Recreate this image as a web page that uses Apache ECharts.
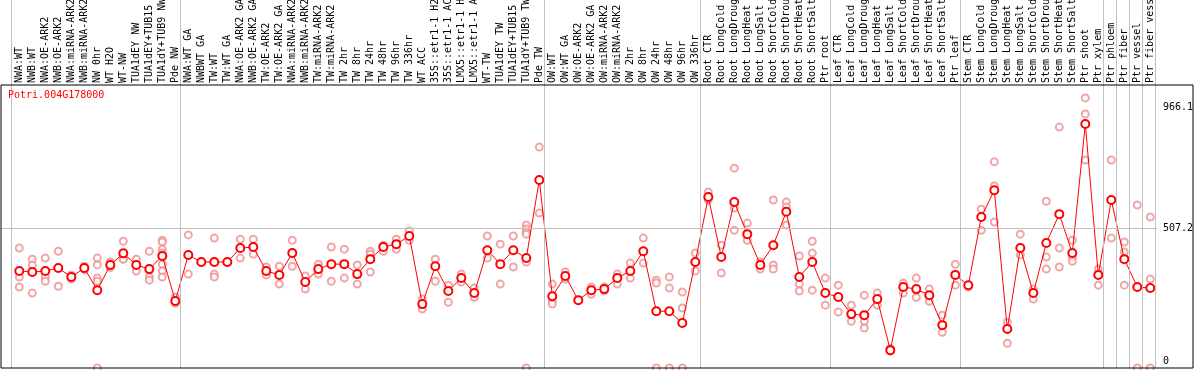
<!DOCTYPE html>
<html>
<head>
<meta charset="utf-8">
<script src="https://cdn.jsdelivr.net/npm/echarts@6/dist/echarts.min.js"></script>
<style>
html,body{margin:0;padding:0;background:#fff;}
#chart{width:1194px;height:370px;}
</style>
</head>
<body>
<div id="chart"></div>
<script>
const geneId = 'Potri.004G178000';

const categories = [
  'NWA:WT','NWB:WT','NWA:OE-ARK2','NWB:OE-ARK2','NWA:miRNA-ARK2','NWB:miRNA-ARK2','NW 0hr','WT H2O','WT-NW',
  'TUA1dEY NW','TUA1dEY+TUB15 NW','TUA1dY+TUB9 NW','Pde NW',
  'NWA:WT GA','NWBWT GA','TW:WT','TW:WT GA','NWA:OE-ARK2 GA','NWB:OE-ARK2 GA','TW:OE-ARK2','TW:OE-ARK2 GA',
  'NWA:miRNA-ARK2','NWB:miRNA-ARK2','TW:miRNA-ARK2','TW:miRNA-ARK2',
  'TW 2hr','TW 8hr','TW 24hr','TW 48hr','TW 96hr','TW 336hr',
  'WT ACC','35S::etr1-1 H2O','35S::etr1-1 ACC','LMX5::etr1-1 H2O','LMX5::etr1-1 ACC',
  'WT-TW','TUA1dEY TW','TUA1dEY+TUB15 TW','TUA1dY+TUB9 TW','Pde TW',
  'OW:WT','OW:WT GA','OW:OE-ARK2','OW:OE-ARK2 GA','OW:miRNA-ARK2','OW:miRNA-ARK2',
  'OW 2hr','OW 8hr','OW 24hr','OW 48hr','OW 96hr','OW 336hr',
  'Root CTR','Root LongCold','Root LongDrought','Root LongHeat','Root LongSalt',
  'Root ShortCold','Root ShortDrought','Root ShortHeat','Root ShortSalt','Ptr root',
  'Leaf CTR','Leaf LongCold','Leaf LongDrought','Leaf LongHeat','Leaf LongSalt',
  'Leaf ShortCold','Leaf ShortDrought','Leaf ShortHeat','Leaf ShortSalt','Ptr leaf',
  'Stem CTR','Stem LongCold','Stem LongDrought','Stem LongHeat','Stem LongSalt',
  'Stem ShortCold','Stem ShortDrought','Stem ShortHeat','Stem ShortSalt',
  'Ptr shoot','Ptr xylem','Ptr phloem','Ptr fiber','Ptr vessel','Ptr fiber vessel'
];

const meanValues = [
  345,341,345,356,322,356,272,368,412,368,352,402,231,
  406,379,379,379,432,436,345,330,413,303,352,371,
  371,333,390,436,447,478,
  219,363,269,318,261,
  424,371,424,394,691,
  249,326,234,272,276,318,
  345,420,192,192,147,379,
  626,398,607,485,368,443,570,322,379,
  261,246,181,177,238,44,284,276,253,139,
  330,291,550,652,124,432,261,451,561,413,
  904,330,615,390,284,280
];

const replicateValues = [
  [432,322,284],[390,367,261],[394,322,306],[420,287,356],[330,314,322],[363,356,350],
  [394,368,318,306,-24],[379,368,358],[458,390,390],[390,345,368],[420,322,310],
  [462,455,428,413,371,345,322],[245,222,228],
  [482,333],[379,379],[470,333,322],[379,379],[466,394],[466,409,436],[360,330],[363,295],
  [462,363],[326,276],[371,333],[436,306],
  [428,318],[368,295],[420,409,341],[443,420],[466,428],[497,462],
  [238,200],[390,306],[291,226],[333,303],[280,245],
  [478,394],[447,295],[478,360],[520,505,493,485,379,-24],[816,565],
  [295,230,219],[341,314],[234],[284,256],[284,270],[333,295],
  [375,318],[470,375],[310,299,-24],[322,280,-24],[265,204,-24],[413,345],
  [645,615],[443,337],[736,584,500],[527,462],[379,352],[615,368,352],[607,588,520],[402,295,269],[458,413,272],
  [318,215],[291,189],[215,154],[253,154,128],[261,215],[50,40],[299,261],[318,245],[276,230],[177,112],
  [371,291],[284],[580,500],[760,668,531],[150,70],[485,406],[276,238],[610,398,352],[892,432,360],[462,398,382],
  [1003,942,767],[352,291],[767,470],[455,417,291],[596,-24],[550,314,-24]
];

const yTickValues = [0, 507.2, 966.1];
const yTickLabels = ['0', '507.2', '966.1'];
const yGridValue = 507.2;
const separatorAfter = [-1, 12, 40, 52, 62, 72, 83, 84, 85, 86, 87];

// ---- layout constants ----
const MONO = 'DejaVu Sans Mono';
const STEP = 13;          // px per category
const FIRST_X = 19.3;     // px of first category
const PLOT_L = 1, PLOT_R = 1157, PLOT_B = 368;
const Y0 = 361.7, YS = 0.2630; // px of value 0, px per unit

const xMin = (PLOT_L - FIRST_X) / STEP;
const xMax = (PLOT_R - FIRST_X) / STEP;
const yMin = -(PLOT_B - Y0) / YS;
const yMax = Y0 / YS;

const meanData = meanValues.map((v, i) => [i, v]);
const repData = [];
replicateValues.forEach((arr, i) => arr.forEach(v => repData.push([i, v])));

const chart = echarts.init(document.getElementById('chart'), null, {renderer: 'canvas'});
chart.setOption({
  animation: false,
  backgroundColor: '#fff',
  title: {
    text: geneId, left: 8, top: 90, padding: 0,
    textStyle: {color: '#ff0000', fontFamily: MONO, fontSize: 10, fontWeight: 'normal'}
  },
  grid: [
    {left: PLOT_L, top: 0, width: PLOT_R - PLOT_L, height: PLOT_B, containLabel: false, outerBoundsMode: 'none'},
    {left: FIRST_X - STEP / 2, top: 85, width: STEP * categories.length, height: PLOT_B - 85, containLabel: false, outerBoundsMode: 'none'},
    {left: 1, top: 85, width: 1192, height: PLOT_B - 85, show: true, borderColor: '#000', borderWidth: 1,
     backgroundColor: 'transparent', z: 10, containLabel: false, outerBoundsMode: 'none'}
  ],
  xAxis: [
    {gridIndex: 0, type: 'value', min: xMin, max: xMax, show: false},
    {gridIndex: 1, type: 'category', position: 'top', data: categories, boundaryGap: true,
     axisLine: {show: false}, axisTick: {show: false}, splitLine: {show: false},
     axisLabel: {rotate: 90, interval: 0, margin: 2, fontFamily: MONO, fontSize: 10, color: '#000',
       hideOverlap: false}},
    {gridIndex: 2, type: 'value', show: false}
  ],
  yAxis: [
    {gridIndex: 0, type: 'value', min: yMin, max: yMax, position: 'right',
     axisLine: {show: false}, axisTick: {show: false}, splitLine: {show: false},
     axisLabel: {customValues: yTickValues, margin: 6, fontFamily: MONO, fontSize: 10, color: '#000',
       formatter: v => { const k = yTickValues.indexOf(v); return k >= 0 ? yTickLabels[k] : ''; }}},
    {gridIndex: 1, type: 'value', show: false},
    {gridIndex: 2, type: 'value', show: false}
  ],
  series: [
    {
      type: 'line', xAxisIndex: 0, yAxisIndex: 0, data: [], silent: true,
      markLine: {
        silent: true, symbol: 'none', animation: false,
        label: {show: false},
        lineStyle: {color: '#c0c0c0', width: 1, type: 'solid'},
        data: separatorAfter.map(i => ({xAxis: i + 0.38})).concat([{yAxis: yGridValue}])
      }
    },
    {
      type: 'scatter', xAxisIndex: 0, yAxisIndex: 0, data: repData, silent: true,
      symbol: 'emptyCircle', symbolSize: 7, clip: false, z: 3,
      itemStyle: {color: '#ec9090', borderColor: '#ec9090', borderWidth: 1.3}
    },
    {
      type: 'line', xAxisIndex: 0, yAxisIndex: 0, data: meanData, silent: true,
      symbol: 'emptyCircle', symbolSize: 8, z: 4,
      lineStyle: {color: '#ff0000', width: 1},
      itemStyle: {color: '#ff0000', borderColor: '#ff0000', borderWidth: 1.8}
    }
  ]
});
</script>
</body>
</html>
